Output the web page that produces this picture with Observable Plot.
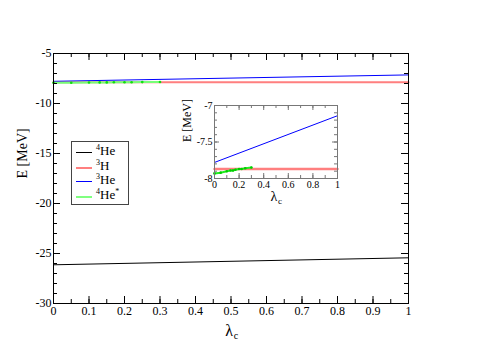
<!DOCTYPE html>
<html><head><meta charset="utf-8">
<script src="https://cdn.jsdelivr.net/npm/d3@7"></script>
<script src="https://cdn.jsdelivr.net/npm/@observablehq/plot@0.6"></script>
<style>
body{margin:0;background:#fff;font-family:"Liberation Serif",serif}
#wrap{position:relative;width:491px;height:347px;overflow:hidden}
#wrap svg{position:absolute;left:0;top:0}
#wrap svg, #wrap svg text, #wrap svg g{font-family:"Liberation Serif",serif !important}
#inset{position:absolute;left:170px;top:95px}
#legend{position:absolute;left:71px;top:141px;width:56px;height:62px;border:1px solid #444;background:#fff;font-family:"Liberation Serif",serif;font-size:13px}
#legend .row{position:absolute;left:0;height:14px}
#legend .sw{position:absolute;left:4px;width:16px;top:7px;height:0}
#legend .lb{position:absolute;left:24px;top:-1px;white-space:nowrap;line-height:14px}
#legend sup{font-size:8px;vertical-align:0;position:relative;top:-5px}
</style></head>
<body><div id="wrap"></div>
<script>
// data
const lambda = [0, 1];
const he4 = [-26.13, -25.43];
const h3 = [-7.87, -7.87];
const he3 = [-7.78, -7.14];
const he4sLambda = [0, 0.05, 0.1, 0.13, 0.15, 0.17, 0.2, 0.22, 0.25, 0.3];
const he4s = [-7.93, -7.92, -7.9, -7.89, -7.89, -7.88, -7.87, -7.87, -7.86, -7.85];
const seriesNames = ["4He", "3H", "3He", "4He*"];
const seriesColors = ["#000000", "#ff7f7f", "#0000ff", "#33ee33"];

// main ticks
const xMajor = d3.range(0, 11).map(i => i / 10);
const xMinor = d3.range(0, 21).map(i => i / 20);
const yMajor = [-30, -25, -20, -15, -10, -5];
const yMinor = d3.range(-30, -4);
// inset ticks
const ixMajor = [0, 0.2, 0.4, 0.6, 0.8, 1];
const ixMinor = d3.range(0, 11).map(i => i / 10);
const iyMajor = [-8, -7.5, -7];
const iyMinor = d3.range(0, 11).map(i => -8 + i / 10);

const lineData = (ys) => lambda.map((x, i) => ({x, y: ys[i]}));
const greenData = he4sLambda.map((x, i) => ({x, y: he4s[i]}));
const fmt = d => String(+d.toFixed(2));
const FONT = "Liberation Serif";

function framedTicks(W, H, xMa, xMi, yMa, yMi, Lma, Lmi, color) {
  return [
    Plot.ruleX(xMa, {x: d => d, insetTop: H - Lma, stroke: color}),
    Plot.ruleX(xMa, {x: d => d, insetBottom: H - Lma, stroke: color}),
    Plot.ruleX(xMi, {x: d => d, insetTop: H - Lmi, stroke: color}),
    Plot.ruleX(xMi, {x: d => d, insetBottom: H - Lmi, stroke: color}),
    Plot.ruleY(yMa, {y: d => d, insetRight: W - Lma, stroke: color}),
    Plot.ruleY(yMa, {y: d => d, insetLeft: W - Lma, stroke: color}),
    Plot.ruleY(yMi, {y: d => d, insetRight: W - Lmi, stroke: color}),
    Plot.ruleY(yMi, {y: d => d, insetLeft: W - Lmi, stroke: color}),
    Plot.frame({stroke: color})
  ];
}

// main chart
const mW = 355, mH = 250;
const main = Plot.plot({
  width: 491, height: 347,
  marginLeft: 53, marginRight: 83, marginTop: 53, marginBottom: 44,
  style: {fontFamily: FONT, fontSize: "12px", background: "#fff", color: "#000"},
  x: {domain: [0, 1]},
  y: {domain: [-30, -5]},
  marks: [
    Plot.axisX({ticks: xMajor, tickSize: 0, tickPadding: 3, tickFormat: fmt, label: null, fontSize: 12, fontFamily: FONT}),
    Plot.axisY({ticks: yMajor, tickSize: 0, tickPadding: 2, tickFormat: fmt, label: null, fontSize: 12, fontFamily: FONT}),
    Plot.line(lineData(he4), {x: "x", y: "y", stroke: seriesColors[0], strokeWidth: 1}),
    Plot.line(lineData(h3), {x: "x", y: "y", stroke: seriesColors[1], strokeWidth: 2}),
    Plot.line(lineData(he3), {x: "x", y: "y", stroke: seriesColors[2], strokeWidth: 1}),
    Plot.line(greenData, {x: "x", y: "y", stroke: "#77ff77", strokeWidth: 2}),
    Plot.dot(greenData, {x: "x", y: "y", r: 1.3, fill: "#11dd11", stroke: null}),
    ...framedTicks(mW, mH, xMajor, xMinor, yMajor, yMinor, 7, 4, "#000"),
    Plot.text(["E [MeV]"], {frameAnchor: "left", dx: -31, rotate: -90, fontSize: 14, fontFamily: FONT}),
    Plot.text(["λ"], {frameAnchor: "bottom", dy: 21, dx: -2, fontSize: 16, lineAnchor: "top", fontFamily: FONT}),
    Plot.text(["c"], {frameAnchor: "bottom", dy: 28, dx: 5, fontSize: 10, lineAnchor: "top", fontFamily: FONT})
  ]
});
document.getElementById("wrap").appendChild(main);

// inset chart
const iW = 123, iH = 73;
const inset = Plot.plot({
  width: 180, height: 125,
  marginLeft: 44, marginRight: 13, marginTop: 10, marginBottom: 42,
  style: {fontFamily: FONT, fontSize: "10px", background: "transparent", color: "#000"},
  x: {domain: [0, 1]},
  y: {domain: [-8, -7]},
  marks: [
    Plot.axisX({ticks: ixMajor, tickSize: 0, tickPadding: 2, tickFormat: fmt, label: null, fontSize: 10, fontFamily: FONT}),
    Plot.axisY({ticks: iyMajor, tickSize: 0, tickPadding: 2, tickFormat: fmt, label: null, fontSize: 10, fontFamily: FONT}),
    Plot.line(lineData(h3), {x: "x", y: "y", stroke: seriesColors[1], strokeWidth: 2.5}),
    Plot.line(lineData(he3), {x: "x", y: "y", stroke: seriesColors[2], strokeWidth: 1}),
    Plot.line(greenData, {x: "x", y: "y", stroke: "#22ee22", strokeWidth: 2}),
    Plot.dot(greenData, {x: "x", y: "y", r: 1.3, fill: "#00cc00", stroke: null}),
    ...framedTicks(iW, iH, ixMajor, ixMinor, iyMajor, iyMinor, 5, 3, "#777"),
    Plot.text(["E [MeV]"], {frameAnchor: "left", dx: -27, rotate: -90, fontSize: 12, fontFamily: FONT}),
    Plot.text(["λ"], {frameAnchor: "bottom", dy: 13, dx: -2, fontSize: 14, lineAnchor: "top", fontFamily: FONT}),
    Plot.text(["c"], {frameAnchor: "bottom", dy: 19, dx: 4, fontSize: 9, lineAnchor: "top", fontFamily: FONT})
  ]
});
inset.id = "inset";
inset.style.left = "170px"; inset.style.top = "95px";
document.getElementById("wrap").appendChild(inset);

// legend (inside the plot area)
const leg = document.createElement("div");
leg.id = "legend";
const rowTops = [3, 18, 32, 47];
seriesNames.forEach((name, i) => {
  const row = document.createElement("div");
  row.className = "row";
  row.style.top = rowTops[i] + "px";
  const sw = document.createElement("div");
  sw.className = "sw";
  sw.style.borderTop = (i === 3 ? 2 : i === 1 ? 2 : 1) + "px solid " + (i === 3 ? "#80ff80" : seriesColors[i]);
  const lb = document.createElement("div");
  lb.className = "lb";
  const m = name.match(/^(\d)(He|H)(\*?)$/);
  lb.innerHTML = "<sup>" + m[1] + "</sup>" + m[2] + (m[3] ? "<sup>*</sup>" : "");
  row.appendChild(sw); row.appendChild(lb);
  leg.appendChild(row);
});
document.getElementById("wrap").appendChild(leg);
</script>
</body></html>
